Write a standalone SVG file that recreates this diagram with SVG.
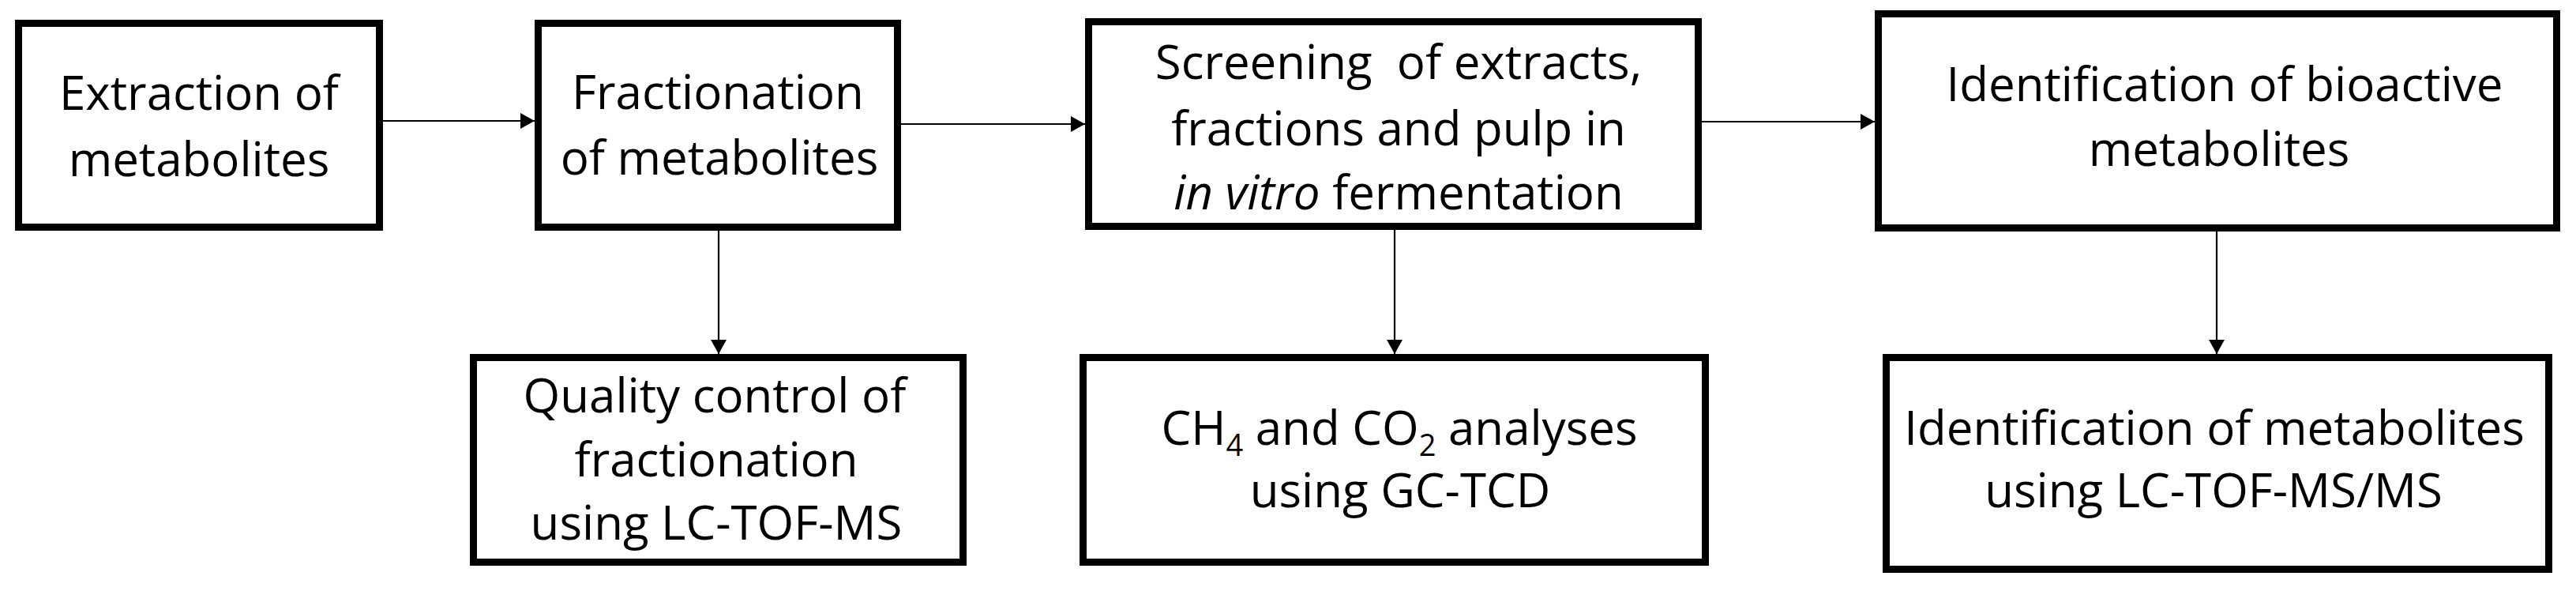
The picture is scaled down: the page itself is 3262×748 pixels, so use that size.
<svg xmlns="http://www.w3.org/2000/svg" width="3262" height="748" viewBox="0 0 3262 748">
<style>
.box{fill:#fff;stroke:#000;stroke-width:9}
.lbl{font-family:"Open Sans","Liberation Sans",sans-serif;font-size:60px;fill:#000;text-anchor:middle}
.sub{font-size:38px}
.conn{stroke:#000;stroke-width:2.2;fill:none;marker-end:url(#ah)}
</style>
<defs>
<marker id="ah" markerUnits="userSpaceOnUse" markerWidth="19" markerHeight="20" refX="18" refY="10" orient="auto">
<path d="M0,0 L18,10 L0,20 Z" fill="#000"/>
</marker>
</defs>
<rect width="3262" height="748" fill="#fff"/>
<g id="connectors">
<line class="conn" x1="485" y1="153" x2="677" y2="153"/>
<line class="conn" x1="1141" y1="157" x2="1374" y2="157"/>
<line class="conn" x1="2155" y1="154" x2="2374" y2="154"/>
<line class="conn" x1="910" y1="292" x2="910" y2="448"/>
<line class="conn" x1="1766" y1="291" x2="1766" y2="448"/>
<line class="conn" x1="2807" y1="293" x2="2807" y2="448"/>
</g>
<g id="extraction">
<rect class="box" x="23.5" y="29.5" width="457" height="258"/>
<text class="lbl"><tspan x="252" y="139">Extraction of</tspan><tspan x="252" y="223">metabolites</tspan></text>
</g>
<g id="fractionation">
<rect class="box" x="681.5" y="29.5" width="455" height="258"/>
<text class="lbl"><tspan x="909" y="138">Fractionation</tspan><tspan x="911" y="221">of metabolites</tspan></text>
</g>
<g id="screening">
<rect class="box" x="1378.5" y="27.5" width="772" height="259"/>
<text class="lbl" xml:space="preserve"><tspan x="1771" y="100">Screening  of extracts,</tspan><tspan x="1771" y="184">fractions and pulp in</tspan><tspan x="1771" y="265"><tspan font-style="italic">in vitro</tspan> fermentation</tspan></text>
</g>
<g id="identification-bioactive">
<rect class="box" x="2378.5" y="17.5" width="859" height="271"/>
<text class="lbl"><tspan x="2817" y="128">Identification of bioactive</tspan><tspan x="2810" y="210">metabolites</tspan></text>
</g>
<g id="quality-control">
<rect class="box" x="599.5" y="452.5" width="620" height="259"/>
<text class="lbl"><tspan x="905" y="522">Quality control of</tspan><tspan x="907" y="603">fractionation</tspan><tspan x="907" y="683">using LC-TOF-MS</tspan></text>
</g>
<g id="gas-analyses">
<rect class="box" x="1371.5" y="452.5" width="788" height="259"/>
<text class="lbl"><tspan x="1772" y="563">CH<tspan class="sub" dy="14">4</tspan><tspan dy="-14"> and CO</tspan><tspan class="sub" dy="14">2</tspan><tspan dy="-14"> analyses</tspan></tspan><tspan x="1773" y="642">using GC-TCD</tspan></text>
</g>
<g id="identification-metabolites">
<rect class="box" x="2388.5" y="452.5" width="839" height="268"/>
<text class="lbl"><tspan x="2804" y="563">Identification of metabolites</tspan><tspan x="2803" y="642">using LC-TOF-MS/MS</tspan></text>
</g>
</svg>
